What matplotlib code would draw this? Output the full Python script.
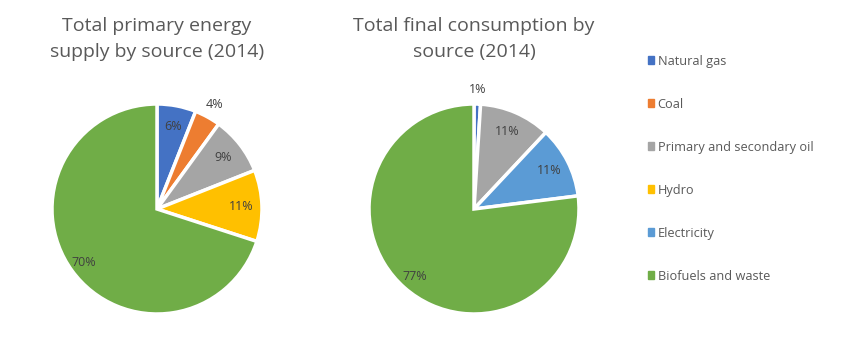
import matplotlib.pyplot as plt
import numpy as np

plt.rcParams['font.family'] = ['Open Sans', 'DejaVu Sans']

supply_labels = ['Natural gas', 'Coal', 'Primary and secondary oil', 'Hydro', 'Biofuels and waste']
supply_values = [6, 4, 9, 11, 70]
supply_colors = ['#4472C4', '#ED7D31', '#A5A5A5', '#FFC000', '#70AD47']

final_labels = ['Natural gas', 'Primary and secondary oil', 'Electricity', 'Biofuels and waste']
final_values = [1, 11, 11, 77]
final_colors = ['#4472C4', '#A5A5A5', '#5B9BD5', '#70AD47']

legend_order = ['Natural gas', 'Coal', 'Primary and secondary oil', 'Hydro',
                'Electricity', 'Biofuels and waste']

fig = plt.figure(figsize=(8.5, 3.52), dpi=100)

W, H = 850, 352
R = 105


def draw_pie(cx, cy, values, colors, title, small=5, pct_r=0.8, last_r=0.9):
    ax = fig.add_axes([(cx - R) / W, (H - cy - R) / H, 2 * R / W, 2 * R / H])
    wedges, _ = ax.pie(values, colors=colors, startangle=90, counterclock=False,
                       wedgeprops=dict(edgecolor='white', linewidth=2.5))
    ax.set_xlim(-1, 1)
    ax.set_ylim(-1, 1)
    ax.axis('off')
    for i, (w, v) in enumerate(zip(wedges, values)):
        ang = np.deg2rad((w.theta1 + w.theta2) / 2)
        r = 1.14 if v < small else (last_r if i == len(values) - 1 else pct_r)
        ax.text(r * np.cos(ang), r * np.sin(ang), f'{v}%', ha='center', va='center',
                fontsize=9, color='#404040', clip_on=False)
    fig.text(cx / W, 1 - 39 / H, title, ha='center', va='center', fontsize=14,
             color='#595959', linespacing=1.6)
    return wedges


w1 = draw_pie(157, 209, supply_values, supply_colors,
              'Total primary energy\nsupply by source (2014)', last_r=0.86)
w2 = draw_pie(474, 209, final_values, final_colors,
              'Total final consumption by\nsource (2014)', last_r=0.86)

handle_map = dict(zip(supply_labels, w1))
handle_map.update({k: v for k, v in zip(final_labels, w2) if k not in handle_map})
handles = [plt.Rectangle((0, 0), 1, 1, color=handle_map[k].get_facecolor()) for k in legend_order]

fig.legend(handles, legend_order, loc='upper left', bbox_to_anchor=(636 / W, 1 - 43 / H),
           frameon=False, fontsize=9.2, labelcolor='#595959', handlelength=0.5,
           handleheight=0.5, handletextpad=0.3, labelspacing=2.35)

fig.savefig('out.png', dpi=100, facecolor='white')
